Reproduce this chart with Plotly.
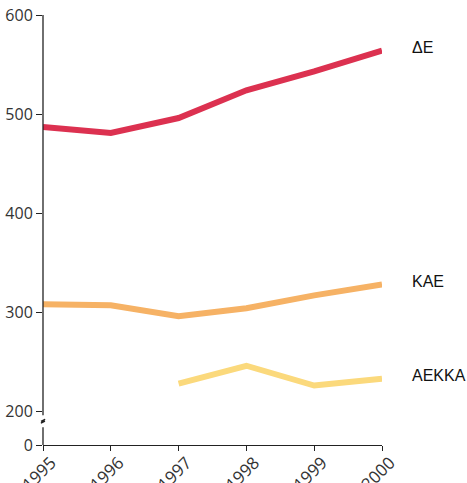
import plotly.graph_objects as go

# Dados
anos = [1995, 1996, 1997, 1998, 1999, 2000]
de_vals = [487, 481, 496, 524, 543, 564]
kae_vals = [308, 307, 296, 304, 317, 328]
aekka_anos = [1997, 1998, 1999, 2000]
aekka_vals = [228, 246, 226, 233]

series = [
    ("ΔΕ", anos, de_vals, "#dc3150"),
    ("ΚΑΕ", anos, kae_vals, "#f6b265"),
    ("ΑΕΚΚΑ", aekka_anos, aekka_vals, "#fbd97c"),
]

# eixo com quebra: 0 fica comprimido logo abaixo de 200
y_zero = 166
y_ticks = [y_zero, 200, 300, 400, 500, 600]
y_labels = ["0", "200", "300", "400", "500", "600"]

fig = go.Figure()
for nome, x, y, cor in series:
    fig.add_trace(go.Scatter(x=x, y=y, mode="lines", name=nome,
                             line=dict(color=cor, width=6)))
    fig.add_annotation(x=1, xref="paper", xshift=28, y=y[-1] + 3,
                       text=nome, showarrow=False, xanchor="left",
                       font=dict(family="Liberation Sans, Arial", size=16, color="#111"))

# linha do eixo y com a marca de quebra
fig.add_shape(type="line", xref="paper", yref="y", x0=0, x1=0, y0=600, y1=196,
              line=dict(color="#222", width=1.3))
fig.add_shape(type="line", xref="paper", yref="y", x0=0, x1=0, y0=184, y1=y_zero,
              line=dict(color="#222", width=1.3))
fig.add_shape(type="path", xref="paper", yref="y",
              path="M -0.006 190 L 0.006 192 L -0.006 188 L 0.006 190",
              line=dict(color="#222", width=1.3))

fig.update_layout(
    width=467, height=483,
    margin=dict(l=43, r=85, t=15, b=38),
    plot_bgcolor="white", paper_bgcolor="white",
    showlegend=False,
    font=dict(family="Open Sans, sans-serif", size=16, color="#333"),
    xaxis=dict(range=[1995, 2000], tickvals=anos, tickangle=-45,
               showgrid=False, zeroline=False, showline=True, automargin=False,
               linecolor="#222", linewidth=1.3, ticks="outside",
               ticklen=5, tickcolor="#222", tickfont=dict(size=17),
               ticklabelshift=8, ticklabelstandoff=-5,
               ticklabeloverflow="allow"),
    yaxis=dict(range=[y_zero, 600], tickvals=y_ticks, ticktext=y_labels,
               showgrid=False, zeroline=False, showline=False, automargin=False,
               ticks="outside", ticklen=6, tickcolor="#222"),
)

# tira a margem padrão do body para a figura ocupar a janela toda
fig.write_html("out.html", config={"displayModeBar": False},
               post_script="document.body.style.margin='0';")
